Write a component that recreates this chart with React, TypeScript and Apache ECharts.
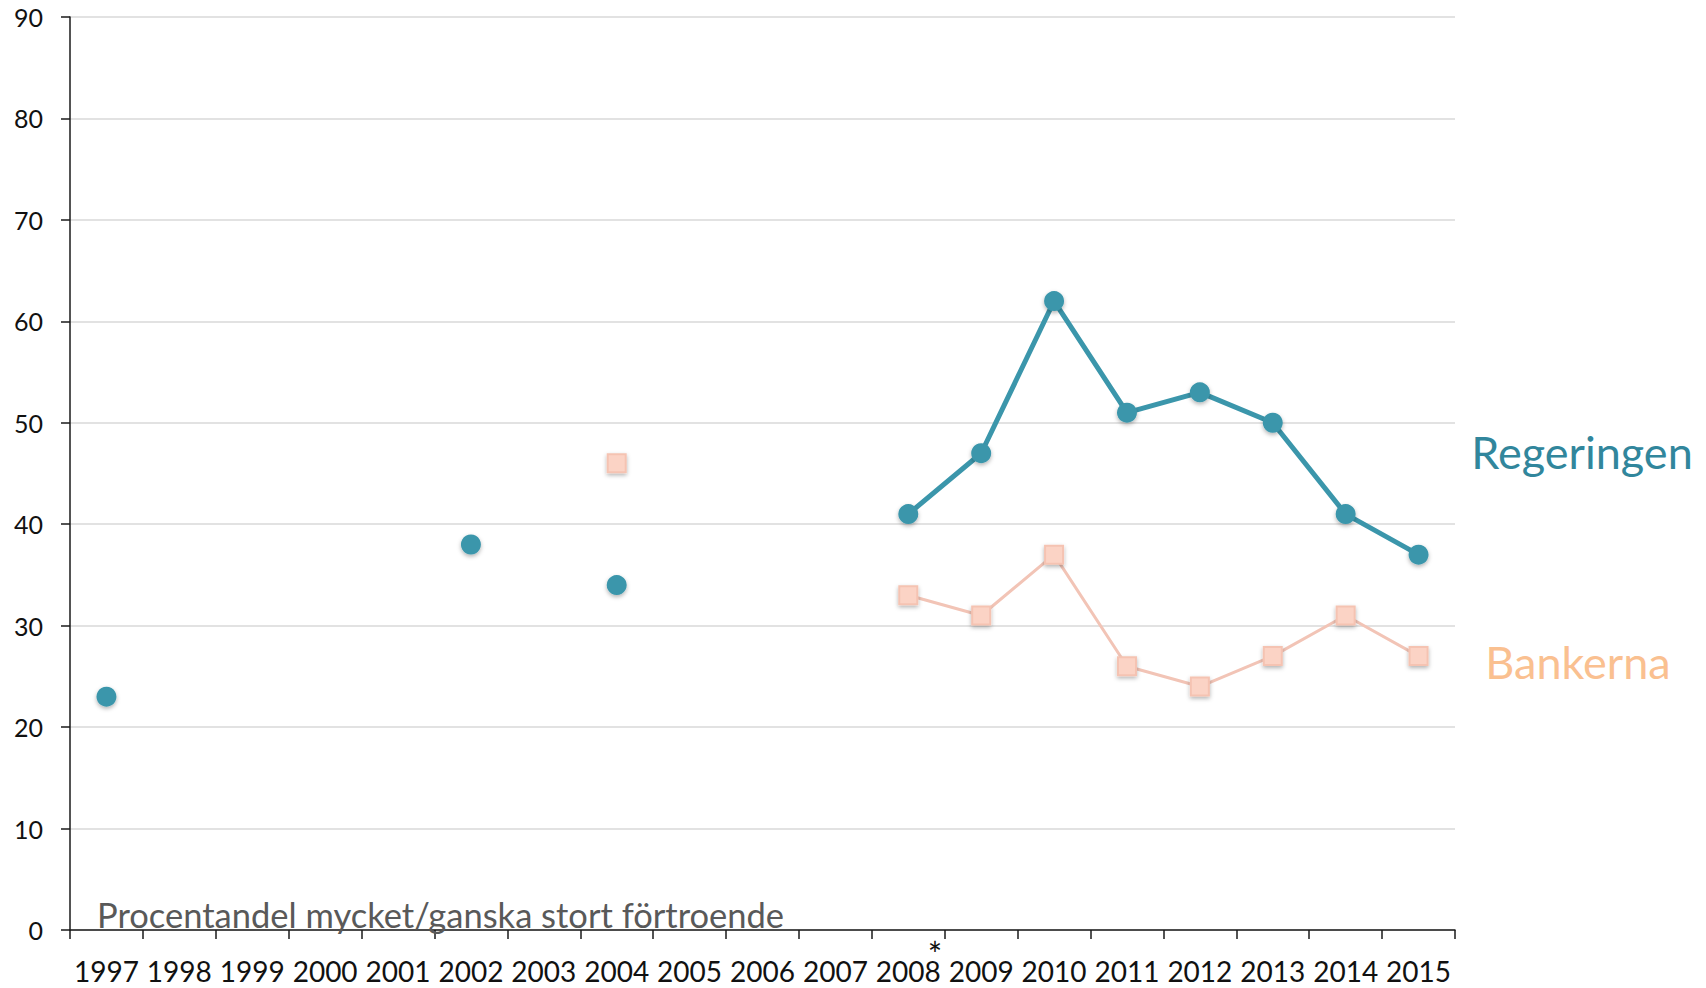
import React, { useEffect, useRef } from "react";
import * as echarts from "echarts";

const years = ["1997", "1998", "1999", "2000", "2001", "2002", "2003", "2004", "2005", "2006", "2007", "2008", "2009", "2010", "2011", "2012", "2013", "2014", "2015"];
const regeringen = [23, null, null, null, null, 38, null, 34, null, null, null, 41, 47, 62, 51, 53, 50, 41, 37];
const bankerna = [null, null, null, null, null, null, null, 46, null, null, null, 33, 31, 37, 26, 24, 27, 31, 27];
const yTicks = { min: 0, max: 90, interval: 10 };
const subtitle = "Procentandel mycket/ganska stort förtroende";
const seriesNames = ["Regeringen", "Bankerna"];

const FONT = "Lato, 'Open Sans', sans-serif";

export default function App() {
  const ref = useRef<HTMLDivElement>(null);
  useEffect(() => {
    if (!ref.current) return;
    const chart = echarts.init(ref.current, null, { renderer: "svg" });
    chart.setOption({
      animation: false,
      backgroundColor: "#ffffff",
      grid: { left: 70, right: 251, top: 17, bottom: 58, containLabel: false },
      xAxis: {
        type: "category",
        data: years,
        boundaryGap: true,
        axisLine: { show: true, lineStyle: { color: "#1a1a1a", width: 1.5 } },
        axisTick: { show: true, length: 9, interval: 0, lineStyle: { color: "#1a1a1a", width: 1.5 } },
        axisLabel: { interval: 0, fontSize: 28, color: "#111", margin: 27, fontFamily: FONT },
        splitLine: { show: false },
      },
      yAxis: {
        type: "value",
        min: yTicks.min,
        max: yTicks.max,
        interval: yTicks.interval,
        axisLine: { show: true, lineStyle: { color: "#1a1a1a", width: 1.5 } },
        axisTick: { show: true, length: 9, lineStyle: { color: "#1a1a1a", width: 1.5 } },
        axisLabel: { fontSize: 25, color: "#111", margin: 27, fontFamily: FONT },
        splitLine: { show: true, lineStyle: { color: "#d9d9d9", width: 1.5 } },
      },
      series: [
        {
          name: seriesNames[1],
          type: "line",
          data: bankerna,
          connectNulls: false,
          symbol: "rect",
          symbolSize: 18,
          lineStyle: { color: "#f2c4b6", width: 3 },
          itemStyle: {
            color: "#fbd3c5",
            borderColor: "#f5c3b2",
            borderWidth: 2,
            shadowBlur: 4,
            shadowColor: "rgba(0,0,0,0.3)",
            shadowOffsetY: 2,
          },
          z: 2,
        },
        {
          name: seriesNames[0],
          type: "line",
          data: regeringen,
          connectNulls: false,
          symbol: "circle",
          symbolSize: 20,
          lineStyle: { color: "#3b96ab", width: 5 },
          itemStyle: {
            color: "#3b96ab",
            shadowBlur: 4,
            shadowColor: "rgba(0,0,0,0.3)",
            shadowOffsetY: 2,
          },
          z: 3,
        },
      ],
      graphic: [
        {
          type: "text",
          left: 97,
          top: 897,
          style: { text: subtitle, fontSize: 34.5, fill: "#595959", fontFamily: FONT },
          z: 10,
        },
        {
          type: "text",
          x: 935,
          y: 936,
          style: { text: "*", fontSize: 34, fill: "#111", fontFamily: FONT, textAlign: "center", textVerticalAlign: "top" },
        },
        {
          type: "text",
          x: 1582,
          y: 452,
          style: { text: seriesNames[0], fontSize: 45, fill: "#31869c", fontFamily: FONT, textAlign: "center", textVerticalAlign: "middle" },
        },
        {
          type: "text",
          x: 1578,
          y: 662,
          style: { text: seriesNames[1], fontSize: 45, fill: "#fac090", fontFamily: FONT, textAlign: "center", textVerticalAlign: "middle" },
        },
      ],
    });
    return () => chart.dispose();
  }, []);
  return <div ref={ref} style={{ position: "absolute", left: 0, top: 0, width: 1706, height: 988 }} />;
}
